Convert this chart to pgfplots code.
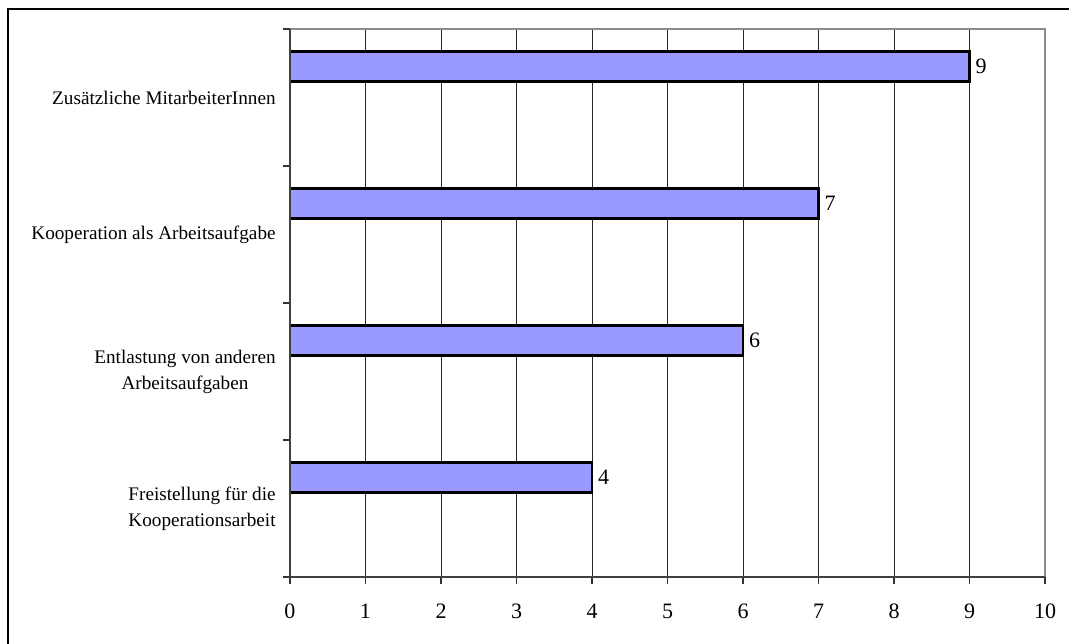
\documentclass[border=0pt]{standalone}
\usepackage{fontspec}
\setmainfont{Liberation Serif}
\usepackage{pgfplots}
\pgfplotsset{compat=1.18}
\definecolor{barblue}{HTML}{9999FF}
\begin{document}
\begin{tikzpicture}[font=\fontsize{14.4}{19.5}\selectfont]
\useasboundingbox (-217.5pt,-49.5pt) rectangle (584.25pt,432.75pt);
\draw[black, line width=0.8pt] (-211.5pt,-60pt) -- (-211.5pt,426pt) -- (600pt,426pt);
\begin{axis}[
  scale only axis, width=566.25pt, height=411pt,
  clip=false,
  xbar, bar width=22.5pt, bar shift=23.25pt,
  xmin=0, xmax=10, ymin=-0.5, ymax=3.5,
  xtick={0,...,10},
  ytick={0,1,2,3},
  yticklabels={{Freistellung für die\\Kooperationsarbeit},{Entlastung von anderen\\Arbeitsaufgaben},{Kooperation als Arbeitsaufgabe},{Zusätzliche MitarbeiterInnen}},
  minor ytick={-0.5,0.5,1.5,2.5,3.5},
  tick align=outside, tick pos=left,
  major tick length=5pt, minor tick length=5pt,
  major y tick style={draw=none},
  every tick/.style={black!80, line width=0.8pt},
  /pgf/number format/assume math mode=true,
  yticklabel style={font=\fontsize{14.4}{19.5}\selectfont, align=center, xshift=-2.25pt},
  xticklabel style={font=\fontsize{16.5}{20}\selectfont, yshift=-11.5pt},
  xmajorgrids, grid style={black!85, line width=0.6pt},
  axis line style={draw=none},
  point meta=x,
  nodes near coords,
  nodes near coords style={font=\fontsize{16.5}{20}\selectfont, anchor=west, black, xshift=0.5pt},
]
\addplot[fill=barblue, draw=black, line width=1.6pt] coordinates {(4,0) (6,1) (7,2) (9,3)};
\draw[gray!90, line width=1.5pt] (rel axis cs:0,1) -- (rel axis cs:1,1) -- (rel axis cs:1,0);
\draw[black!75, line width=1.5pt] (rel axis cs:1,0) -- (rel axis cs:0,0) -- (rel axis cs:0,1);
\end{axis}
\end{tikzpicture}
\end{document}
